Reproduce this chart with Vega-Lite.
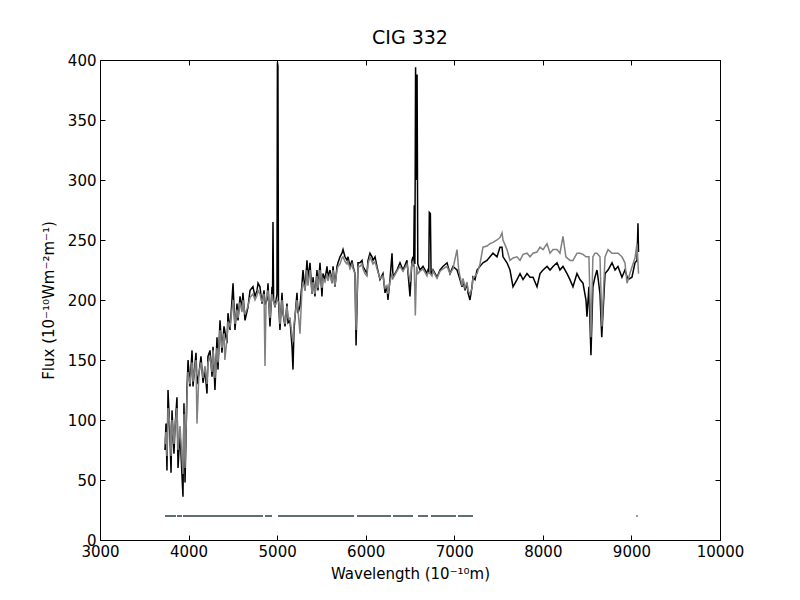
{
  "$schema": "https://vega.github.io/schema/vega-lite/v6.json",
  "autosize": {"type": "none"},
  "padding": {"left": 100, "top": 60, "right": 80, "bottom": 60},
  "width": 620,
  "height": 480,
  "title": {"text": "CIG 332", "fontSize": 19, "fontWeight": "normal", "font": "DejaVu Sans", "color": "black", "offset": 5},
  "datasets": {
    "obs": [
      {"w": 3734, "f": 75}, {"w": 3745, "f": 97}, {"w": 3756, "f": 58}, {"w": 3768, "f": 125}, {"w": 3790, "f": 86},
      {"w": 3802, "f": 56}, {"w": 3813, "f": 108}, {"w": 3835, "f": 72}, {"w": 3847, "f": 94}, {"w": 3869, "f": 119},
      {"w": 3881, "f": 60}, {"w": 3903, "f": 90}, {"w": 3937, "f": 36}, {"w": 3948, "f": 114}, {"w": 3960, "f": 48},
      {"w": 3982, "f": 125}, {"w": 3994, "f": 150}, {"w": 4016, "f": 128}, {"w": 4039, "f": 158}, {"w": 4050, "f": 128},
      {"w": 4084, "f": 156}, {"w": 4095, "f": 130}, {"w": 4118, "f": 139}, {"w": 4140, "f": 153}, {"w": 4163, "f": 131},
      {"w": 4185, "f": 142}, {"w": 4208, "f": 122}, {"w": 4219, "f": 153}, {"w": 4242, "f": 158}, {"w": 4265, "f": 136},
      {"w": 4276, "f": 161}, {"w": 4298, "f": 125}, {"w": 4321, "f": 169}, {"w": 4332, "f": 142}, {"w": 4355, "f": 183},
      {"w": 4377, "f": 156}, {"w": 4400, "f": 178}, {"w": 4434, "f": 164}, {"w": 4445, "f": 189}, {"w": 4468, "f": 175},
      {"w": 4502, "f": 214}, {"w": 4524, "f": 175}, {"w": 4547, "f": 197}, {"w": 4558, "f": 183}, {"w": 4581, "f": 203},
      {"w": 4603, "f": 192}, {"w": 4614, "f": 206}, {"w": 4637, "f": 183}, {"w": 4671, "f": 194}, {"w": 4694, "f": 208},
      {"w": 4727, "f": 211}, {"w": 4750, "f": 203}, {"w": 4773, "f": 208}, {"w": 4784, "f": 214}, {"w": 4806, "f": 211},
      {"w": 4829, "f": 197}, {"w": 4852, "f": 208}, {"w": 4863, "f": 196}, {"w": 4885, "f": 200}, {"w": 4897, "f": 214},
      {"w": 4919, "f": 178}, {"w": 4942, "f": 211}, {"w": 4948, "f": 200}, {"w": 4953, "f": 265}, {"w": 4960, "f": 200},
      {"w": 4976, "f": 194}, {"w": 4998, "f": 205}, {"w": 5003, "f": 398}, {"w": 5009, "f": 395}, {"w": 5015, "f": 200},
      {"w": 5032, "f": 175}, {"w": 5055, "f": 206}, {"w": 5066, "f": 189}, {"w": 5089, "f": 178}, {"w": 5111, "f": 197},
      {"w": 5123, "f": 181}, {"w": 5145, "f": 183}, {"w": 5168, "f": 161}, {"w": 5179, "f": 142}, {"w": 5190, "f": 175},
      {"w": 5224, "f": 206}, {"w": 5235, "f": 189}, {"w": 5258, "f": 195}, {"w": 5281, "f": 214}, {"w": 5292, "f": 225},
      {"w": 5315, "f": 208}, {"w": 5337, "f": 233}, {"w": 5348, "f": 217}, {"w": 5371, "f": 231}, {"w": 5394, "f": 205},
      {"w": 5405, "f": 219}, {"w": 5427, "f": 203}, {"w": 5450, "f": 225}, {"w": 5461, "f": 208}, {"w": 5484, "f": 231},
      {"w": 5506, "f": 203}, {"w": 5518, "f": 222}, {"w": 5540, "f": 217}, {"w": 5563, "f": 228}, {"w": 5574, "f": 219},
      {"w": 5597, "f": 225}, {"w": 5619, "f": 214}, {"w": 5631, "f": 228}, {"w": 5653, "f": 211}, {"w": 5676, "f": 228},
      {"w": 5687, "f": 231}, {"w": 5710, "f": 236}, {"w": 5732, "f": 239}, {"w": 5744, "f": 242}, {"w": 5766, "f": 236},
      {"w": 5789, "f": 233}, {"w": 5800, "f": 236}, {"w": 5823, "f": 228}, {"w": 5845, "f": 233}, {"w": 5857, "f": 228},
      {"w": 5879, "f": 222}, {"w": 5891, "f": 162}, {"w": 5913, "f": 231}, {"w": 5935, "f": 231}, {"w": 5958, "f": 233},
      {"w": 5969, "f": 228}, {"w": 5992, "f": 225}, {"w": 6014, "f": 222}, {"w": 6026, "f": 233}, {"w": 6048, "f": 239},
      {"w": 6071, "f": 236}, {"w": 6082, "f": 233}, {"w": 6105, "f": 236}, {"w": 6127, "f": 228}, {"w": 6161, "f": 217},
      {"w": 6195, "f": 222}, {"w": 6218, "f": 206}, {"w": 6240, "f": 211}, {"w": 6251, "f": 200}, {"w": 6274, "f": 217},
      {"w": 6297, "f": 239}, {"w": 6308, "f": 219}, {"w": 6353, "f": 225}, {"w": 6387, "f": 231}, {"w": 6421, "f": 225},
      {"w": 6466, "f": 233}, {"w": 6500, "f": 203}, {"w": 6522, "f": 233}, {"w": 6534, "f": 236}, {"w": 6541, "f": 228},
      {"w": 6548, "f": 279}, {"w": 6555, "f": 230}, {"w": 6563, "f": 394}, {"w": 6570, "f": 300}, {"w": 6580, "f": 388},
      {"w": 6588, "f": 230}, {"w": 6613, "f": 225}, {"w": 6647, "f": 228}, {"w": 6692, "f": 222}, {"w": 6703, "f": 225},
      {"w": 6712, "f": 224}, {"w": 6718, "f": 273}, {"w": 6730, "f": 272}, {"w": 6738, "f": 222}, {"w": 6748, "f": 222},
      {"w": 6760, "f": 225}, {"w": 6805, "f": 219}, {"w": 6839, "f": 225}, {"w": 6872, "f": 228}, {"w": 6918, "f": 231},
      {"w": 6952, "f": 222}, {"w": 6985, "f": 228}, {"w": 7031, "f": 225}, {"w": 7064, "f": 217}, {"w": 7087, "f": 211},
      {"w": 7098, "f": 217}, {"w": 7121, "f": 208}, {"w": 7144, "f": 214}, {"w": 7155, "f": 206}, {"w": 7177, "f": 200},
      {"w": 7200, "f": 211}, {"w": 7211, "f": 219}, {"w": 7234, "f": 217}, {"w": 7257, "f": 225}, {"w": 7290, "f": 228},
      {"w": 7324, "f": 231}, {"w": 7369, "f": 233}, {"w": 7403, "f": 236}, {"w": 7437, "f": 239}, {"w": 7482, "f": 236},
      {"w": 7516, "f": 244}, {"w": 7539, "f": 244}, {"w": 7550, "f": 236}, {"w": 7595, "f": 231}, {"w": 7629, "f": 225},
      {"w": 7663, "f": 211}, {"w": 7708, "f": 217}, {"w": 7742, "f": 222}, {"w": 7776, "f": 217}, {"w": 7821, "f": 222},
      {"w": 7855, "f": 219}, {"w": 7889, "f": 219}, {"w": 7934, "f": 211}, {"w": 7968, "f": 222}, {"w": 8002, "f": 225},
      {"w": 8047, "f": 228}, {"w": 8081, "f": 225}, {"w": 8115, "f": 228}, {"w": 8160, "f": 231}, {"w": 8193, "f": 225},
      {"w": 8227, "f": 228}, {"w": 8273, "f": 222}, {"w": 8306, "f": 217}, {"w": 8340, "f": 211}, {"w": 8385, "f": 222},
      {"w": 8419, "f": 217}, {"w": 8453, "f": 214}, {"w": 8487, "f": 200}, {"w": 8498, "f": 186}, {"w": 8520, "f": 211},
      {"w": 8543, "f": 154}, {"w": 8565, "f": 211}, {"w": 8588, "f": 219}, {"w": 8611, "f": 225}, {"w": 8622, "f": 219},
      {"w": 8645, "f": 205}, {"w": 8665, "f": 169}, {"w": 8702, "f": 222}, {"w": 8736, "f": 225}, {"w": 8781, "f": 231},
      {"w": 8815, "f": 225}, {"w": 8848, "f": 228}, {"w": 8893, "f": 219}, {"w": 8927, "f": 225}, {"w": 8961, "f": 217},
      {"w": 9006, "f": 219}, {"w": 9040, "f": 231}, {"w": 9063, "f": 233}, {"w": 9074, "f": 264}, {"w": 9080, "f": 240}
    ],
    "model": [
      {"w": 3734, "f": 80}, {"w": 3745, "f": 90}, {"w": 3756, "f": 70}, {"w": 3768, "f": 110}, {"w": 3790, "f": 95},
      {"w": 3802, "f": 70}, {"w": 3813, "f": 100}, {"w": 3835, "f": 80}, {"w": 3847, "f": 95}, {"w": 3869, "f": 110},
      {"w": 3881, "f": 75}, {"w": 3903, "f": 95}, {"w": 3937, "f": 55}, {"w": 3948, "f": 105}, {"w": 3960, "f": 60},
      {"w": 3982, "f": 120}, {"w": 3994, "f": 140}, {"w": 4016, "f": 130}, {"w": 4039, "f": 148}, {"w": 4050, "f": 132},
      {"w": 4084, "f": 150}, {"w": 4095, "f": 97}, {"w": 4118, "f": 140}, {"w": 4140, "f": 148}, {"w": 4163, "f": 135},
      {"w": 4185, "f": 145}, {"w": 4208, "f": 130}, {"w": 4219, "f": 148}, {"w": 4242, "f": 152}, {"w": 4265, "f": 140},
      {"w": 4276, "f": 158}, {"w": 4298, "f": 135}, {"w": 4321, "f": 160}, {"w": 4332, "f": 148}, {"w": 4355, "f": 175},
      {"w": 4377, "f": 160}, {"w": 4400, "f": 172}, {"w": 4410, "f": 150}, {"w": 4434, "f": 168}, {"w": 4445, "f": 182},
      {"w": 4468, "f": 178}, {"w": 4502, "f": 200}, {"w": 4524, "f": 180}, {"w": 4547, "f": 192}, {"w": 4558, "f": 185},
      {"w": 4581, "f": 198}, {"w": 4603, "f": 190}, {"w": 4614, "f": 200}, {"w": 4637, "f": 188}, {"w": 4671, "f": 195},
      {"w": 4694, "f": 202}, {"w": 4727, "f": 205}, {"w": 4750, "f": 200}, {"w": 4773, "f": 204}, {"w": 4784, "f": 208},
      {"w": 4806, "f": 205}, {"w": 4829, "f": 198}, {"w": 4852, "f": 205}, {"w": 4863, "f": 145}, {"w": 4875, "f": 200},
      {"w": 4897, "f": 208}, {"w": 4919, "f": 185}, {"w": 4942, "f": 205}, {"w": 4953, "f": 200}, {"w": 4976, "f": 195},
      {"w": 5000, "f": 200}, {"w": 5020, "f": 198}, {"w": 5032, "f": 180}, {"w": 5055, "f": 200}, {"w": 5066, "f": 190},
      {"w": 5089, "f": 180}, {"w": 5111, "f": 195}, {"w": 5123, "f": 185}, {"w": 5145, "f": 185}, {"w": 5168, "f": 170},
      {"w": 5179, "f": 165}, {"w": 5190, "f": 180}, {"w": 5224, "f": 200}, {"w": 5235, "f": 192}, {"w": 5258, "f": 172},
      {"w": 5281, "f": 210}, {"w": 5292, "f": 215}, {"w": 5315, "f": 208}, {"w": 5337, "f": 225}, {"w": 5348, "f": 212},
      {"w": 5371, "f": 225}, {"w": 5394, "f": 205}, {"w": 5405, "f": 215}, {"w": 5427, "f": 205}, {"w": 5450, "f": 220},
      {"w": 5461, "f": 210}, {"w": 5484, "f": 225}, {"w": 5506, "f": 210}, {"w": 5518, "f": 218}, {"w": 5540, "f": 215},
      {"w": 5563, "f": 222}, {"w": 5574, "f": 216}, {"w": 5597, "f": 222}, {"w": 5619, "f": 214}, {"w": 5631, "f": 225},
      {"w": 5653, "f": 212}, {"w": 5676, "f": 225}, {"w": 5687, "f": 228}, {"w": 5710, "f": 230}, {"w": 5732, "f": 235},
      {"w": 5744, "f": 236}, {"w": 5766, "f": 232}, {"w": 5789, "f": 230}, {"w": 5800, "f": 232}, {"w": 5823, "f": 226},
      {"w": 5845, "f": 230}, {"w": 5857, "f": 226}, {"w": 5879, "f": 222}, {"w": 5891, "f": 175}, {"w": 5913, "f": 228},
      {"w": 5935, "f": 228}, {"w": 5958, "f": 230}, {"w": 5969, "f": 226}, {"w": 5992, "f": 222}, {"w": 6014, "f": 220},
      {"w": 6026, "f": 230}, {"w": 6048, "f": 236}, {"w": 6071, "f": 232}, {"w": 6082, "f": 230}, {"w": 6105, "f": 232},
      {"w": 6127, "f": 226}, {"w": 6161, "f": 218}, {"w": 6195, "f": 220}, {"w": 6218, "f": 210}, {"w": 6240, "f": 212},
      {"w": 6251, "f": 205}, {"w": 6274, "f": 215}, {"w": 6297, "f": 222}, {"w": 6308, "f": 218}, {"w": 6353, "f": 224},
      {"w": 6387, "f": 228}, {"w": 6421, "f": 224}, {"w": 6466, "f": 230}, {"w": 6500, "f": 215}, {"w": 6522, "f": 230},
      {"w": 6534, "f": 232}, {"w": 6548, "f": 228}, {"w": 6560, "f": 187}, {"w": 6575, "f": 228}, {"w": 6590, "f": 222},
      {"w": 6613, "f": 224}, {"w": 6647, "f": 226}, {"w": 6692, "f": 220}, {"w": 6703, "f": 223}, {"w": 6726, "f": 222},
      {"w": 6748, "f": 220}, {"w": 6760, "f": 224}, {"w": 6805, "f": 218}, {"w": 6839, "f": 224}, {"w": 6872, "f": 226},
      {"w": 6918, "f": 228}, {"w": 6952, "f": 222}, {"w": 6985, "f": 226}, {"w": 7031, "f": 242}, {"w": 7050, "f": 225},
      {"w": 7064, "f": 220}, {"w": 7087, "f": 212}, {"w": 7098, "f": 218}, {"w": 7121, "f": 210}, {"w": 7144, "f": 215},
      {"w": 7155, "f": 208}, {"w": 7177, "f": 205}, {"w": 7200, "f": 210}, {"w": 7211, "f": 218}, {"w": 7234, "f": 220},
      {"w": 7257, "f": 222}, {"w": 7290, "f": 230}, {"w": 7324, "f": 244}, {"w": 7369, "f": 245}, {"w": 7403, "f": 247},
      {"w": 7437, "f": 248}, {"w": 7482, "f": 250}, {"w": 7516, "f": 252}, {"w": 7539, "f": 256}, {"w": 7550, "f": 250},
      {"w": 7595, "f": 242}, {"w": 7629, "f": 233}, {"w": 7663, "f": 235}, {"w": 7708, "f": 236}, {"w": 7742, "f": 233},
      {"w": 7776, "f": 238}, {"w": 7821, "f": 239}, {"w": 7855, "f": 236}, {"w": 7889, "f": 239}, {"w": 7934, "f": 240},
      {"w": 7968, "f": 244}, {"w": 8002, "f": 242}, {"w": 8047, "f": 247}, {"w": 8081, "f": 239}, {"w": 8115, "f": 242},
      {"w": 8160, "f": 242}, {"w": 8193, "f": 239}, {"w": 8227, "f": 253}, {"w": 8260, "f": 236}, {"w": 8306, "f": 233},
      {"w": 8340, "f": 233}, {"w": 8385, "f": 239}, {"w": 8419, "f": 239}, {"w": 8453, "f": 238}, {"w": 8487, "f": 236},
      {"w": 8520, "f": 236}, {"w": 8543, "f": 169}, {"w": 8565, "f": 236}, {"w": 8588, "f": 239}, {"w": 8611, "f": 239},
      {"w": 8645, "f": 236}, {"w": 8667, "f": 178}, {"w": 8702, "f": 236}, {"w": 8736, "f": 242}, {"w": 8781, "f": 239},
      {"w": 8815, "f": 239}, {"w": 8848, "f": 239}, {"w": 8893, "f": 236}, {"w": 8927, "f": 231}, {"w": 8950, "f": 214},
      {"w": 8995, "f": 225}, {"w": 9040, "f": 235}, {"w": 9063, "f": 247}, {"w": 9080, "f": 222}
    ],
    "masks": [
      {"w1": 3734, "w2": 3858, "f": 20}, {"w1": 3869, "w2": 3926, "f": 20}, {"w1": 3937, "w2": 4840, "f": 20},
      {"w1": 4863, "w2": 4942, "f": 20}, {"w1": 5010, "w2": 5868, "f": 20}, {"w1": 5902, "w2": 6286, "f": 20},
      {"w1": 6308, "w2": 6534, "f": 20}, {"w1": 6590, "w2": 6703, "f": 20}, {"w1": 6737, "w2": 7019, "f": 20},
      {"w1": 7042, "w2": 7211, "f": 20}, {"w1": 9055, "w2": 9070, "f": 20}
    ]
  },
  "layer": [
    {
      "data": {"name": "obs"},
      "mark": {"type": "line", "color": "black", "strokeWidth": 1.5, "clip": true},
      "encoding": {
        "x": {"field": "w", "type": "quantitative", "scale": {"domain": [3000, 10000], "nice": false},
          "axis": {"title": "Wavelength (10⁻¹⁰m)", "values": [3000, 4000, 5000, 6000, 7000, 8000, 9000, 10000], "format": "d"}},
        "y": {"field": "f", "type": "quantitative", "scale": {"domain": [0, 400], "nice": false},
          "axis": {"title": "Flux (10⁻¹⁰Wm⁻²m⁻¹)", "values": [0, 50, 100, 150, 200, 250, 300, 350, 400], "format": "d"}}
      }
    },
    {
      "data": {"name": "model"},
      "mark": {"type": "line", "color": "#808080", "strokeWidth": 1.5, "clip": true},
      "encoding": {
        "x": {"field": "w", "type": "quantitative",
          "axis": {"orient": "top", "labels": false, "title": null, "values": [3000, 4000, 5000, 6000, 7000, 8000, 9000, 10000]}},
        "y": {"field": "f", "type": "quantitative",
          "axis": {"orient": "right", "labels": false, "title": null, "values": [0, 50, 100, 150, 200, 250, 300, 350, 400]}}
      }
    },
    {
      "data": {"name": "masks"},
      "mark": {"type": "rule", "color": "#5f6e73", "strokeWidth": 2},
      "encoding": {
        "x": {"field": "w1", "type": "quantitative", "axis": null},
        "x2": {"field": "w2"},
        "y": {"field": "f", "type": "quantitative", "axis": null}
      }
    }
  ],
  "resolve": {"axis": {"x": "independent", "y": "independent"}},
  "config": {
    "view": {"stroke": "black", "strokeWidth": 1},
    "font": "DejaVu Sans",
    "axis": {
      "grid": false,
      "domain": false,
      "tickColor": "black",
      "tickSize": -5,
      "tickWidth": 1,
      "labelPadding": 9,
      "labelFont": "DejaVu Sans",
      "labelFontSize": 15,
      "labelColor": "black",
      "titleFont": "DejaVu Sans",
      "titleFontSize": 15,
      "titleFontWeight": "normal",
      "titleColor": "black",
      "labelFlush": false
    },
    "axisX": {"titlePadding": 7},
    "axisY": {"titlePadding": 11}
  }
}
